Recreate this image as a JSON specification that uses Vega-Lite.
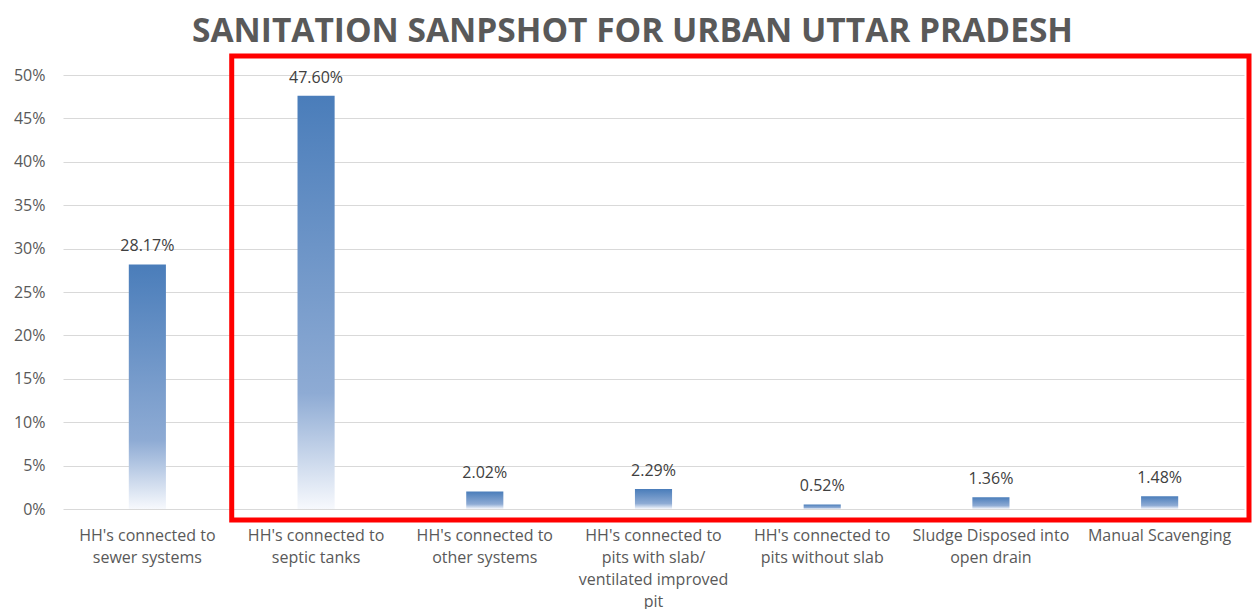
{
  "$schema": "https://vega.github.io/schema/vega-lite/v6.json",
  "width": 1181,
  "height": 434,
  "autosize": {"type": "none"},
  "padding": {"left": 63, "top": 75, "right": 8, "bottom": 100},
  "background": "white",
  "title": {
    "text": "SANITATION SANPSHOT FOR URBAN UTTAR PRADESH",
    "font": "Open Sans",
    "fontSize": 33.5,
    "fontWeight": "bold",
    "color": "#595959",
    "anchor": "middle",
    "frame": "bounds",
    "offset": 4
  },
  "config": {
    "view": {"stroke": null},
    "font": "Open Sans"
  },
  "resolve": {"scale": {"x": "independent"}, "axis": {"x": "independent"}},
  "datasets": {
    "bars": [
      {"category": "HH's connected to|sewer systems", "value": 0.2817, "label": "28.17%"},
      {"category": "HH's connected to|septic tanks", "value": 0.476, "label": "47.60%"},
      {"category": "HH's connected to|other systems", "value": 0.0202, "label": "2.02%"},
      {"category": "HH's connected to|pits with slab/|ventilated improved|pit", "value": 0.0229, "label": "2.29%"},
      {"category": "HH's connected to|pits without slab", "value": 0.0052, "label": "0.52%"},
      {"category": "Sludge Disposed into|open drain", "value": 0.0136, "label": "1.36%"},
      {"category": "Manual Scavenging", "value": 0.0148, "label": "1.48%"}
    ],
    "box": [
      {"start": "HH's connected to|septic tanks", "end": "Manual Scavenging", "top": 0.522, "bottom": -0.0127}
    ]
  },
  "layer": [
    {
      "layer": [
        {
          "data": {"name": "bars"},
          "mark": {
            "type": "bar",
            "color": {
              "gradient": "linear",
              "x1": 0, "y1": 0, "x2": 0, "y2": 1,
              "stops": [
                {"offset": 0, "color": "#4a7dba"},
                {"offset": 0.72, "color": "#8eabd4"},
                {"offset": 1, "color": "#f7f9fd"}
              ]
            }
          },
          "encoding": {
            "x": {
              "field": "category",
              "type": "nominal",
              "sort": null,
              "scale": {"paddingInner": 0.78, "paddingOuter": 0.39},
              "axis": {
                "title": null,
                "labelAngle": 0,
                "labelExpr": "split(datum.label, '|')",
                "labelFont": "Open Sans",
                "labelFontSize": 16,
                "labelColor": "#595959",
                "labelLineHeight": 22,
                "labelPadding": 18,
                "labelBaseline": "top",
                "ticks": false,
                "domain": false,
                "labelLimit": 300
              }
            },
            "y": {
              "field": "value",
              "type": "quantitative",
              "scale": {"domain": [0, 0.5], "nice": false},
              "axis": {
                "title": null,
                "format": ".0%",
                "values": [0, 0.05, 0.1, 0.15, 0.2, 0.25, 0.3, 0.35, 0.4, 0.45, 0.5],
                "labelFont": "Open Sans",
                "labelFontSize": 16,
                "labelColor": "#595959",
                "labelPadding": 18,
                "ticks": false,
                "domain": false,
                "grid": true,
                "gridColor": "#d9d9d9",
                "gridWidth": 1
              }
            }
          }
        },
        {
          "data": {"name": "bars"},
          "mark": {"type": "text", "baseline": "bottom", "dy": -10, "fontSize": 16, "color": "#404040", "font": "Open Sans"},
          "encoding": {
            "x": {"field": "category", "type": "nominal", "sort": null},
            "y": {"field": "value", "type": "quantitative"},
            "text": {"field": "label"}
          }
        }
      ]
    },
    {
      "data": {"name": "box"},
      "mark": {"type": "rect", "fill": null, "stroke": "#ff0000", "strokeWidth": 5, "x2Offset": 5},
      "encoding": {
        "x": {
          "field": "start",
          "type": "nominal",
          "bandPosition": 0,
          "scale": {
            "domain": [
              "HH's connected to|sewer systems",
              "HH's connected to|septic tanks",
              "HH's connected to|other systems",
              "HH's connected to|pits with slab/|ventilated improved|pit",
              "HH's connected to|pits without slab",
              "Sludge Disposed into|open drain",
              "Manual Scavenging"
            ],
            "paddingInner": 0,
            "paddingOuter": 0
          },
          "axis": null
        },
        "x2": {"field": "end", "bandPosition": 1},
        "y": {"field": "top", "type": "quantitative"},
        "y2": {"field": "bottom"}
      }
    }
  ]
}
